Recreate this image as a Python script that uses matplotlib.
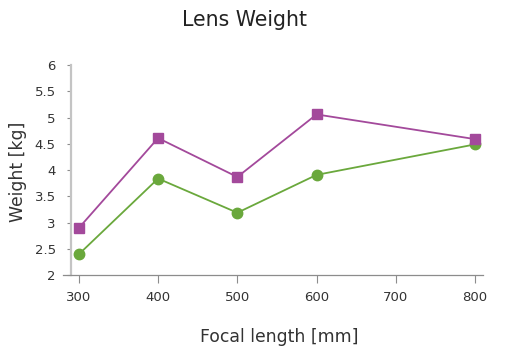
import matplotlib
matplotlib.use("Agg")
import matplotlib.pyplot as plt

focal = [300, 400, 500, 600, 800]
weight_a = [2.4, 3.84, 3.19, 3.91, 4.49]
weight_b = [2.9, 4.61, 3.87, 5.06, 4.59]
xticks = [300, 400, 500, 600, 700, 800]
yticks = [2, 2.5, 3, 3.5, 4, 4.5, 5, 5.5, 6]
ytick_labels = ["2", "2.5", "3", "3.5", "4", "4.5", "5", "5.5", "6"]

W, H = 507, 352
fig = plt.figure(figsize=(W / 100, H / 100), dpi=100)
ax = fig.add_axes([63 / W, 1 - 275.3 / H, (483 - 63) / W, (275.3 - 65) / H])

green = "#6aa83c"
purple = "#a3499b"

ax.plot(focal, weight_a, color=green, lw=1.3, marker="o", ms=7.5, mec=green, mfc=green, clip_on=False, zorder=3)
ax.plot(focal, weight_b, color=purple, lw=1.3, marker="s", ms=7.5, mec=purple, mfc=purple, clip_on=False, zorder=4)

ax.set_xlim(280, 810)
ax.set_ylim(2, 6)
ax.set_xticks(xticks)
ax.set_xticklabels([str(v) for v in xticks])
ax.set_yticks(yticks)
ax.set_yticklabels(ytick_labels)

for s in ["top", "right"]:
    ax.spines[s].set_visible(False)
ax.spines["left"].set_position(("data", 290))
ax.spines["left"].set_color("#c4c4c4")
ax.spines["left"].set_linewidth(1.6)
ax.spines["bottom"].set_color("#8c8c8c")
ax.spines["bottom"].set_linewidth(0.9)

ax.tick_params(axis="y", length=3, width=0.8, color="#8c8c8c", pad=8, labelsize=9.5, labelcolor="#333333")
ax.tick_params(axis="x", length=6, width=0.8, color="#8c8c8c", pad=5, labelsize=9.5, labelcolor="#333333")

fig.text(244 / W, 1 - 20 / H, "Lens Weight", ha="center", va="center", fontsize=14.8, color="#222222")
fig.text(279 / W, 1 - 337 / H, "Focal length [mm]", ha="center", va="center", fontsize=12.4, color="#333333")
fig.text(18.5 / W, 1 - 171.7 / H, "Weight [kg]", ha="center", va="center", rotation=90, fontsize=12.4, color="#333333")

fig.savefig("out.png", dpi=100)
